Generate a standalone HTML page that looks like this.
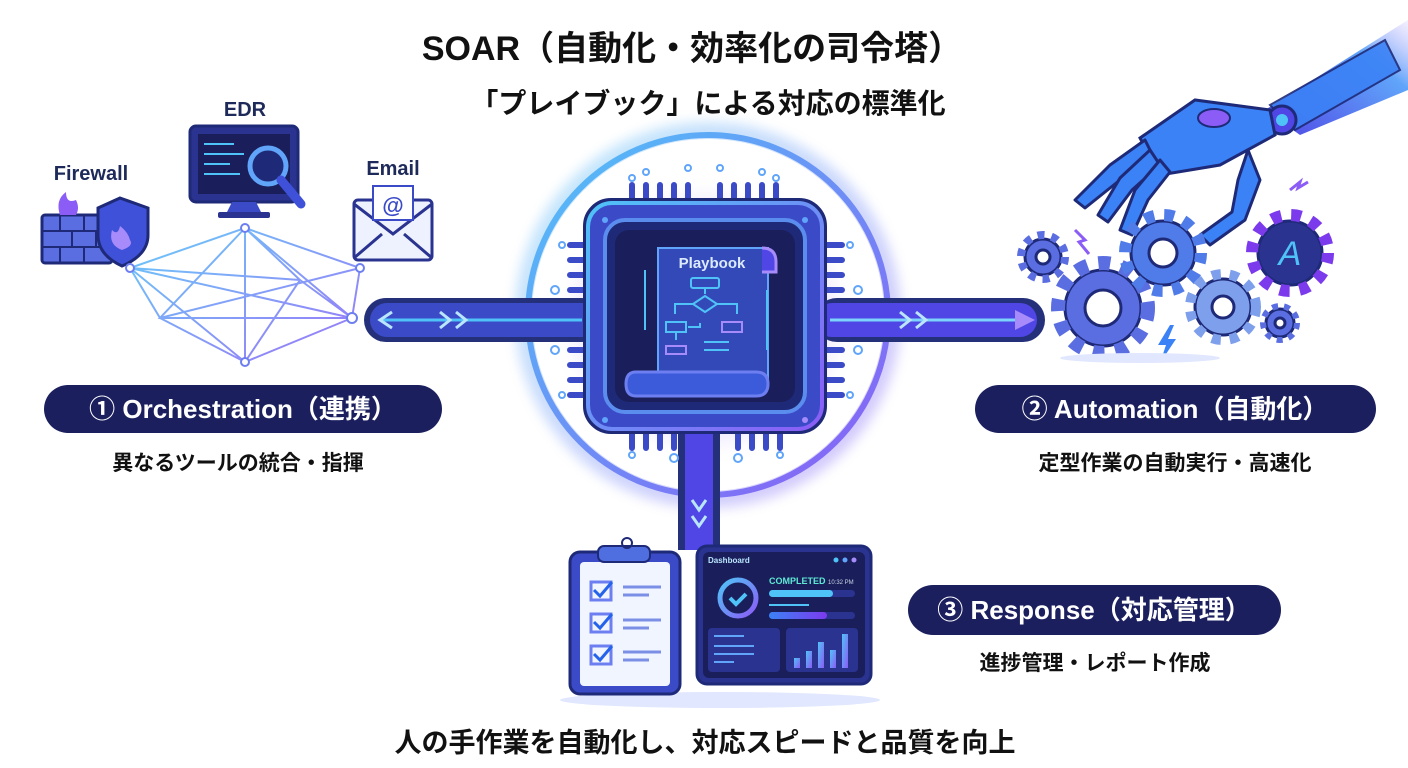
<!DOCTYPE html>
<html><head><meta charset="utf-8"><style>
html,body{margin:0;padding:0;background:#fff;}
svg{display:block;}
text{font-family:"Liberation Sans","Noto Sans CJK JP",sans-serif;}
</style></head><body>
<svg width="1408" height="768" viewBox="0 0 1408 768" xmlns="http://www.w3.org/2000/svg">
<defs>
<linearGradient id="bp" x1="0" y1="0" x2="1" y2="1"><stop offset="0" stop-color="#4fc3f7"/><stop offset="1" stop-color="#8b5cf6"/></linearGradient>
<linearGradient id="bp2" x1="0" y1="0" x2="1" y2="0"><stop offset="0" stop-color="#3b82f6"/><stop offset="1" stop-color="#7c3aed"/></linearGradient>
<radialGradient id="glow" cx="0.5" cy="0.5" r="0.5"><stop offset="0.4" stop-color="#8b5cf6" stop-opacity="0.55"/><stop offset="1" stop-color="#a78bfa" stop-opacity="0"/></radialGradient>
<linearGradient id="arm" x1="1" y1="0" x2="0" y2="1"><stop offset="0" stop-color="#c4b5fd" stop-opacity="0.2"/><stop offset="0.3" stop-color="#60a5fa"/><stop offset="1" stop-color="#4f46e5"/></linearGradient>
<filter id="blur" x="-20%" y="-20%" width="140%" height="140%"><feGaussianBlur stdDeviation="6"/></filter>
</defs>

<!-- Titles -->
<text x="692" y="60" text-anchor="middle" font-size="34" font-weight="bold" fill="#111">SOAR（自動化・効率化の司令塔）</text>
<text x="708" y="113" text-anchor="middle" font-size="28" font-weight="bold" fill="#111">「プレイブック」による対応の標準化</text>

<!-- Left icons -->
<text x="91" y="180" text-anchor="middle" font-size="20" font-weight="bold" fill="#1e2a5a">Firewall</text>
<g>
<rect x="42" y="215" width="70" height="48" rx="3" fill="#5b6ee1" stroke="#1e2a78" stroke-width="3"/>
<path d="M42 231h70M42 247h70M60 215v16M84 215v16M72 231v16M96 231v16M60 247v16M84 247v16" stroke="#1e2a78" stroke-width="2"/>
<path d="M120 198 L148 208 L148 235 Q148 255 122 266 Q98 255 98 235 L98 208 Z" fill="#3f51d8" stroke="#1e2a78" stroke-width="3"/>
<path d="M122 250 Q108 245 112 230 Q118 236 120 226 Q128 232 130 240 Q134 246 122 250Z" fill="#a78bfa"/>
<path d="M60 215 Q55 200 66 192 Q66 204 76 200 Q80 208 76 215Z" fill="#8b5cf6"/>
</g>
<text x="245" y="116" text-anchor="middle" font-size="20" font-weight="bold" fill="#1e2a5a">EDR</text>
<g>
<rect x="190" y="126" width="108" height="76" rx="6" fill="#2a3490" stroke="#1e2a78" stroke-width="3"/>
<rect x="198" y="134" width="92" height="60" fill="#1a1f5c"/>
<path d="M204 144h30M204 154h40M204 164h26M204 174h36" stroke="#4fc3f7" stroke-width="2"/>
<path d="M232 202l-6 12h36l-6-12z" fill="#3b4bc8"/><rect x="218" y="212" width="52" height="6" rx="2" fill="#2a3490"/>
<circle cx="268" cy="166" r="18" fill="#1e2a78" stroke="#60a5fa" stroke-width="5"/>
<path d="M281 180l20 24" stroke="#3f51d8" stroke-width="9" stroke-linecap="round"/>
</g>
<text x="393" y="175" text-anchor="middle" font-size="20" font-weight="bold" fill="#1e2a5a">Email</text>
<g>
<rect x="354" y="200" width="78" height="60" rx="4" fill="#eef2ff" stroke="#2a3490" stroke-width="3"/>
<path d="M354 204l39 30 39-30M354 258l28-24M432 258l-28-24" stroke="#2a3490" stroke-width="3" fill="none"/>
<rect x="373" y="186" width="40" height="34" fill="#fff" stroke="#3b4bc8" stroke-width="2"/>
<text x="393" y="213" text-anchor="middle" font-size="22" font-weight="bold" fill="#3b4bc8">@</text>
</g>
<!-- mesh -->
<g stroke="url(#bp)" stroke-width="2" fill="none" opacity="0.85">
<path d="M130 268L245 228L352 318L245 362L130 268L352 318M245 228L245 362M130 268L300 280M245 228L160 318L352 318M245 228L300 280L245 362L160 318L130 268M360 268L245 228M360 268L352 318M360 268L160 318M300 280L352 318"/>
</g>
<g fill="#fff" stroke="#6d7ff0" stroke-width="2"><circle cx="130" cy="268" r="4"/><circle cx="245" cy="228" r="4"/><circle cx="352" cy="318" r="5"/><circle cx="245" cy="362" r="4"/><circle cx="360" cy="268" r="4"/></g>

<!-- Glow ring -->
<circle cx="708" cy="315" r="182" fill="none" stroke="url(#bp)" stroke-width="22" opacity="0.35" filter="url(#blur)"/>
<circle cx="708" cy="315" r="180" fill="none" stroke="url(#bp)" stroke-width="6"/>
<circle cx="708" cy="315" r="176" fill="#fff"/>
<rect x="560" y="185" width="290" height="270" rx="50" fill="url(#glow)" filter="url(#blur)"/>

<!-- Horizontal bars -->
<rect x="364" y="298" width="240" height="44" rx="22" fill="#25307a"/>
<rect x="370" y="303" width="230" height="34" rx="17" fill="#3b4bc8"/>
<path d="M382 320h200" stroke="#4fc3f7" stroke-width="3"/>
<path d="M392 312l-12 8 12 8M440 312l10 8-10 8M456 312l10 8-10 8" stroke="#bae6fd" stroke-width="3" fill="none"/>
<rect x="815" y="298" width="230" height="44" rx="22" fill="#25307a"/>
<rect x="815" y="303" width="222" height="34" rx="17" fill="#4f46e5"/>
<path d="M830 320h190" stroke="#7dd3fc" stroke-width="3"/>
<path d="M1015 310l20 10-20 10z" fill="#a78bfa"/>
<path d="M900 312l10 8-10 8M916 312l10 8-10 8" stroke="#bae6fd" stroke-width="3" fill="none"/>

<!-- Vertical bar -->
<rect x="678" y="420" width="42" height="130" fill="#25307a"/>
<rect x="685" y="420" width="28" height="130" fill="#4f46e5"/>
<path d="M692 500l7 10 7-10M692 516l7 10 7-10" stroke="#bae6fd" stroke-width="3" fill="none"/>

<!-- Chip pins -->
<g stroke="#3b4bc8" stroke-width="6" stroke-linecap="round">
<path d="M632 185v20M646 185v20M660 185v20M674 185v20M688 185v20M720 185v20M734 185v20M748 185v20M762 185v20M776 185v20"/>
<path d="M632 432v16M646 432v16M660 432v16M674 432v16M738 432v16M752 432v16M766 432v16M780 432v16"/>
<path d="M570 245h20M570 260h20M570 275h20M570 290h20M570 350h20M570 365h20M570 380h20M570 395h20"/>
<path d="M822 245h20M822 260h20M822 275h20M822 290h20M822 350h20M822 365h20M822 380h20M822 395h20"/>
</g>
<g fill="none" stroke="#60a5fa" stroke-width="2">
<circle cx="632" cy="178" r="3"/><circle cx="646" cy="172" r="3"/><circle cx="688" cy="168" r="3"/><circle cx="720" cy="168" r="3"/><circle cx="762" cy="172" r="3"/><circle cx="776" cy="178" r="3"/>
<circle cx="562" cy="245" r="3"/><circle cx="555" cy="290" r="4"/><circle cx="555" cy="350" r="4"/><circle cx="562" cy="395" r="3"/>
<circle cx="850" cy="245" r="3"/><circle cx="858" cy="290" r="4"/><circle cx="858" cy="350" r="4"/><circle cx="850" cy="395" r="3"/>
<circle cx="632" cy="455" r="3"/><circle cx="674" cy="458" r="4"/><circle cx="738" cy="458" r="4"/><circle cx="780" cy="455" r="3"/>
</g>
<!-- Chip -->
<rect x="585" y="200" width="240" height="232" rx="26" fill="#3b4bc8" stroke="#1e2a78" stroke-width="4"/>
<rect x="588" y="203" width="234" height="226" rx="24" fill="none" stroke="url(#bp)" stroke-width="4"/>
<rect x="605" y="220" width="200" height="192" rx="20" fill="#1e2a78" stroke="#5b8def" stroke-width="4"/>
<rect x="615" y="230" width="180" height="172" rx="14" fill="#1a1f5c"/>
<circle cx="605" cy="220" r="3" fill="#60a5fa"/><circle cx="805" cy="220" r="3" fill="#60a5fa"/><circle cx="605" cy="420" r="3" fill="#60a5fa"/><circle cx="805" cy="420" r="3" fill="#a78bfa"/>
<!-- scroll -->
<path d="M658 248h110v140h-110z" fill="#3349b8" stroke="#60a5fa" stroke-width="2"/>
<path d="M762 248q14 0 14 14v10h-14" fill="#4f46e5" stroke="#a78bfa" stroke-width="3"/>
<path d="M636 372h120q12 0 12 12 0 12-12 12h-120q-10 0-10-12 0-12 10-12z" fill="#3b5bdb" stroke="#6d7ff0" stroke-width="3"/>
<text x="712" y="268" text-anchor="middle" font-size="15" font-weight="bold" fill="#dbeafe">Playbook</text>
<g stroke="#4fc3f7" stroke-width="2" fill="none">
<rect x="691" y="278" width="28" height="10" rx="2"/><path d="M705 288v6M693 304l12-8 12 8-12 8z"/><path d="M693 304h-18v10M717 304h20v10"/>
<rect x="666" y="322" width="20" height="10"/><path d="M676 332v8"/><rect x="722" y="322" width="20" height="10" stroke="#a78bfa"/>
<rect x="666" y="346" width="20" height="8" stroke="#a78bfa"/><path d="M688 327h12v-4M704 342h25M704 350h25M645 270v60M767 290v60"/>
</g>

<!-- Pills -->
<rect x="44" y="385" width="398" height="48" rx="24" fill="#1b1f5e"/>
<text x="243" y="418" text-anchor="middle" font-size="26" font-weight="bold" fill="#fff">① Orchestration（連携）</text>
<text x="238" y="470" text-anchor="middle" font-size="21" font-weight="bold" fill="#111">異なるツールの統合・指揮</text>
<rect x="975" y="385" width="401" height="48" rx="24" fill="#1b1f5e"/>
<text x="1175" y="418" text-anchor="middle" font-size="26" font-weight="bold" fill="#fff">② Automation（自動化）</text>
<text x="1175" y="470" text-anchor="middle" font-size="21" font-weight="bold" fill="#111">定型作業の自動実行・高速化</text>
<rect x="908" y="585" width="373" height="50" rx="25" fill="#1b1f5e"/>
<text x="1094" y="619" text-anchor="middle" font-size="26" font-weight="bold" fill="#fff">③ Response（対応管理）</text>
<text x="1095" y="670" text-anchor="middle" font-size="21" font-weight="bold" fill="#111">進捗管理・レポート作成</text>

<text x="705" y="752" text-anchor="middle" font-size="27" font-weight="bold" fill="#111">人の手作業を自動化し、対応スピードと品質を向上</text>

<!-- Clipboard -->
<ellipse cx="720" cy="700" rx="160" ry="8" fill="#e0e7ff"/>
<rect x="570" y="552" width="110" height="142" rx="10" fill="#3b4bc8" stroke="#1e2a78" stroke-width="3"/>
<rect x="580" y="562" width="90" height="124" rx="4" fill="#f1f5ff"/>
<rect x="598" y="546" width="52" height="16" rx="6" fill="#4f6fe0" stroke="#1e2a78" stroke-width="2"/>
<circle cx="627" cy="543" r="5" fill="none" stroke="#1e2a78" stroke-width="2"/>
<g stroke="#2563eb" stroke-width="3" fill="none">
<rect x="591" y="582" width="20" height="18" stroke="#6d7ff0"/><path d="M594 590l6 6 12-14"/>
<rect x="591" y="614" width="20" height="18" stroke="#6d7ff0"/><path d="M594 622l6 6 12-14"/>
<rect x="591" y="646" width="20" height="18" stroke="#6d7ff0"/><path d="M594 654l6 6 12-14"/>
</g>
<path d="M623 587h38M623 595h26M623 620h38M623 628h26M623 652h38M623 660h26" stroke="#7c8fe6" stroke-width="3"/>
<!-- Dashboard -->
<rect x="697" y="546" width="174" height="138" rx="10" fill="#2a3490" stroke="#1e2a78" stroke-width="3"/>
<rect x="703" y="552" width="162" height="126" rx="6" fill="#1a1f5c"/>
<text x="708" y="563" font-size="8" font-weight="bold" fill="#bae6fd">Dashboard</text>
<circle cx="836" cy="560" r="2.5" fill="#4fc3f7"/><circle cx="845" cy="560" r="2.5" fill="#60a5fa"/><circle cx="854" cy="560" r="2.5" fill="#a78bfa"/>
<circle cx="738" cy="598" r="18" fill="none" stroke="url(#bp)" stroke-width="5"/>
<path d="M730 598l6 6 10-10" stroke="#4fc3f7" stroke-width="4" fill="none"/>
<text x="769" y="584" font-size="9" font-weight="bold" fill="#5eead4">COMPLETED</text>
<text x="828" y="584" font-size="6" fill="#cbd5e1">10:32 PM</text>
<rect x="769" y="590" width="86" height="7" rx="3.5" fill="#2a3490"/><rect x="769" y="590" width="64" height="7" rx="3.5" fill="#4fc3f7"/>
<path d="M769 605h40" stroke="#4fc3f7" stroke-width="2"/>
<rect x="769" y="612" width="86" height="7" rx="3.5" fill="#2a3490"/><rect x="769" y="612" width="58" height="7" rx="3.5" fill="url(#bp2)"/>
<rect x="708" y="628" width="72" height="44" rx="4" fill="#2a3490"/>
<path d="M714 636h30M714 646h40M714 654h40M714 662h20" stroke="#60a5fa" stroke-width="2"/>
<rect x="786" y="628" width="72" height="44" rx="4" fill="#2a3490"/>
<g fill="url(#bp)"><rect x="794" y="658" width="6" height="10"/><rect x="806" y="651" width="6" height="17"/><rect x="818" y="642" width="6" height="26"/><rect x="830" y="650" width="6" height="18"/><rect x="842" y="634" width="6" height="34"/></g>

<!-- Robot arm -->
<path d="M1408 20 L1408 90 L1300 135 L1265 110 Z" fill="url(#arm)"/>
<path d="M1270 105 L1385 40 L1400 70 L1295 130 Z" fill="#3b82f6" stroke="#1e2a78" stroke-width="2" opacity="0.9"/>
<circle cx="1282" cy="120" r="14" fill="#4f46e5" stroke="#1e2a78" stroke-width="3"/><circle cx="1282" cy="120" r="6" fill="#4fc3f7"/>
<path d="M1270 110 L1195 100 L1140 138 L1160 175 L1220 165 L1275 135 Z" fill="#3b82f6" stroke="#1e2a78" stroke-width="3"/>
<ellipse cx="1214" cy="118" rx="16" ry="9" fill="#8b5cf6" stroke="#1e2a78" stroke-width="2"/>
<g stroke="#1e2a78" stroke-width="3" fill="#3b82f6" stroke-linejoin="round">
<path d="M1145 140 L1110 165 L1075 200 L1085 208 L1120 180 L1155 160Z"/>
<path d="M1150 150 L1120 178 L1098 215 L1108 222 L1132 190 L1160 165Z"/>
<path d="M1160 160 L1135 190 L1120 230 L1132 235 L1148 200 L1170 172Z"/>
<path d="M1248 150 L1260 180 L1245 220 L1210 245 L1200 235 L1232 212 L1238 180Z"/>
</g>
<!-- gears -->
<g stroke="#1e2a78" stroke-width="3">
<g fill="#5b6ee1"><circle cx="1103" cy="308" r="38"/><circle cx="1103" cy="308" r="45" fill="none" stroke="#5b6ee1" stroke-width="14" stroke-dasharray="12 11"/></g>
<circle cx="1103" cy="308" r="18" fill="#fff"/>
<circle cx="1163" cy="253" r="32" fill="#4f7ce8"/><circle cx="1163" cy="253" r="38" fill="none" stroke="#4f7ce8" stroke-width="12" stroke-dasharray="10 10"/><circle cx="1163" cy="253" r="14" fill="#fff"/>
<circle cx="1223" cy="307" r="28" fill="#7ea0ec"/><circle cx="1223" cy="307" r="33" fill="none" stroke="#7ea0ec" stroke-width="10" stroke-dasharray="9 9"/><circle cx="1223" cy="307" r="11" fill="#fff"/>
<circle cx="1290" cy="253" r="32" fill="#2a3490"/><circle cx="1290" cy="253" r="38" fill="none" stroke="#7c3aed" stroke-width="12" stroke-dasharray="10 10"/>
<circle cx="1043" cy="257" r="18" fill="#5b6ee1"/><circle cx="1043" cy="257" r="22" fill="none" stroke="#5b6ee1" stroke-width="8" stroke-dasharray="7 7"/><circle cx="1043" cy="257" r="7" fill="#fff"/>
<circle cx="1280" cy="323" r="14" fill="#5b6ee1"/><circle cx="1280" cy="323" r="17" fill="none" stroke="#5b6ee1" stroke-width="6" stroke-dasharray="6 6"/><circle cx="1280" cy="323" r="5" fill="#fff"/>
</g>
<text x="1290" y="265" text-anchor="middle" font-size="34" font-style="italic" fill="#4fc3f7">A</text>
<path d="M1170 325l-12 20h8l-6 18 16-24h-8l6-14z" fill="#3b82f6"/>
<path d="M1075 230l10 10-6 2 10 12" stroke="#8b5cf6" stroke-width="3" fill="none"/>
<path d="M1290 190l10-8-2 6 10-6" stroke="#8b5cf6" stroke-width="3" fill="none"/>
<ellipse cx="1140" cy="358" rx="80" ry="5" fill="#e0e7ff"/>
</svg>
</body></html>
